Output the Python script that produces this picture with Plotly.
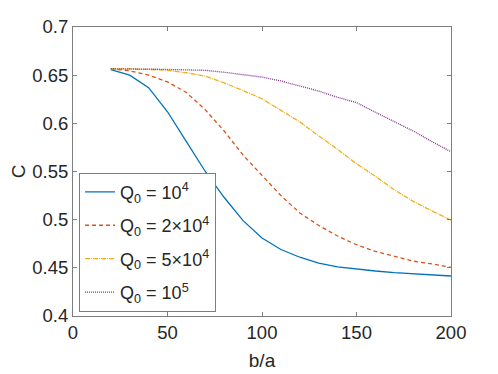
import plotly.graph_objects as go

# b/a values (x axis)
ba = [20, 30, 40, 50, 60, 70, 80, 90, 100, 110, 120, 130, 140, 150, 160, 170, 180, 190, 200]

# C values for each Q0
c_q1e4 = [0.6557, 0.650, 0.637, 0.612, 0.581, 0.550, 0.523, 0.499, 0.481, 0.469,
          0.461, 0.455, 0.451, 0.4487, 0.4467, 0.445, 0.4437, 0.4425, 0.4415]
c_q2e4 = [0.6567, 0.6545, 0.650, 0.643, 0.632, 0.614, 0.592, 0.567, 0.546, 0.525,
          0.507, 0.494, 0.483, 0.474, 0.467, 0.462, 0.457, 0.454, 0.4505]
c_q5e4 = [0.6567, 0.6565, 0.656, 0.655, 0.6525, 0.649, 0.642, 0.634, 0.6255, 0.6135,
          0.6015, 0.587, 0.573, 0.558, 0.545, 0.531, 0.519, 0.509, 0.4995]
c_q1e5 = [0.6567, 0.6566, 0.6563, 0.656, 0.6555, 0.655, 0.653, 0.6505, 0.648, 0.644,
          0.6385, 0.6335, 0.627, 0.6215, 0.6115, 0.602, 0.592, 0.581, 0.5705]

names = ["Q<sub>0</sub> = 10<sup>4</sup>",
         "Q<sub>0</sub> = 2×10<sup>4</sup>",
         "Q<sub>0</sub> = 5×10<sup>4</sup>",
         "Q<sub>0</sub> = 10<sup>5</sup>"]

x_ticks = [0, 50, 100, 150, 200]
y_ticks = [0.4, 0.45, 0.5, 0.55, 0.6, 0.65, 0.7]
y_ticktext = ["0.4", "0.45", "0.5", "0.55", "0.6", "0.65", "0.7"]

colors = ["#0072BD", "#D95319", "#EDB120", "#7E2F8E"]
dashes = ["solid", "4px,3px", "5px,1px,1px,1px", "1px,1px"]

fig = go.Figure()
for i, ys in enumerate([c_q1e4, c_q2e4, c_q5e4, c_q1e5]):
    fig.add_trace(go.Scatter(
        x=ba, y=ys, mode="lines", name=names[i],
        legendgroup=str(i),
        line=dict(color=colors[i], width=1.3, dash=dashes[i])
    ))

axis_color = "rgb(125,125,125)"
# the page body has an 8px margin, so the figure is made 8px smaller
fig.update_layout(
    width=490, height=366,
    margin=dict(l=65, r=47, t=19, b=58),
    paper_bgcolor="white",
    plot_bgcolor="white",
    font=dict(family="Liberation Sans, Arial, sans-serif", size=18.5, color="#262626"),
    legend=dict(
        x=0.016, y=0.015, xanchor="left", yanchor="bottom",
        bordercolor=axis_color, borderwidth=1, bgcolor="white",
        font=dict(size=18, color="#262626"),
        tracegroupgap=7,
    ),
    showlegend=True,
)
fig.update_xaxes(
    range=[0, 200], tickvals=x_ticks, ticks="inside", ticklen=4,
    showline=True, linecolor=axis_color, linewidth=1, mirror="ticks",
    tickcolor=axis_color, showgrid=False, zeroline=False, automargin=False,
    title=dict(text="b/a", font=dict(size=19), standoff=11),
)
fig.update_yaxes(
    range=[0.4, 0.7], tickvals=y_ticks, ticktext=y_ticktext, ticks="inside", ticklen=4,
    showline=True, linecolor=axis_color, linewidth=1, mirror="ticks",
    tickcolor=axis_color, showgrid=False, zeroline=False, automargin=False,
    title=dict(text="C", font=dict(size=19), standoff=6),
)

fig.write_html("out.html")
